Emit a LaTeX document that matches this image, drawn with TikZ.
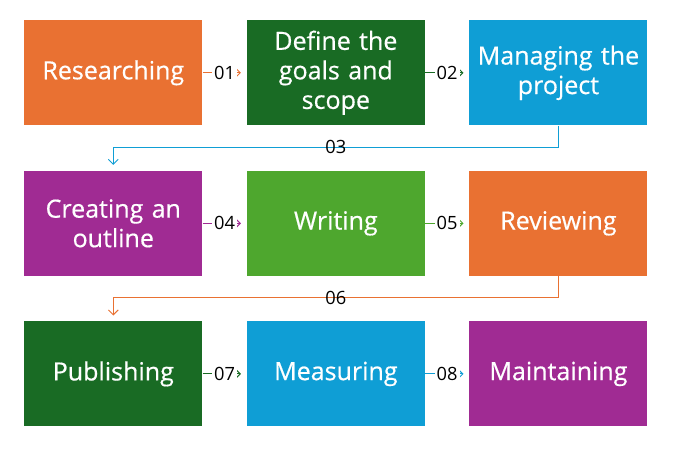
\documentclass[tikz,border=0pt]{standalone}
\usepackage{fontspec}
\setmainfont{Open Sans}
\newfontfamily\boxfont[FakeBold=0.5]{Open Sans}
\usetikzlibrary{positioning,arrows.meta,calc}
\definecolor{accOrange}{HTML}{E97132}
\definecolor{accDkGreen}{HTML}{196B24}
\definecolor{accBlue}{HTML}{0F9ED5}
\definecolor{accPurple}{HTML}{A02B93}
\definecolor{accGreen}{HTML}{4EA72E}
\tikzset{
  stage/.style={rectangle, minimum width=4.45cm, minimum height=2.625cm,
    text width=4.4cm, align=center, text=white, inner sep=0pt,
    font=\boxfont\fontsize{17.8}{21}\selectfont},
  link/.style={-{Straight Barb[length=3.5pt,width=7pt]}, line width=0.7pt, shorten >=4pt},
  num/.style={fill=white, inner sep=1.5pt, text=black, font=\fontsize{13}{14}\selectfont},
  wrapnum/.style={inner sep=0pt, text=black, font=\fontsize{13}{14}\selectfont}
}
\begin{document}
\begin{tikzpicture}
    \useasboundingbox (0,0) rectangle (17,-11.225);
    % first row
    \node[stage, fill=accOrange, anchor=north west] (res) at (0.6,-0.5) {Researching};
    \node[stage, fill=accDkGreen] (goals) [right=1.1cm of res] {Define the\\goals and\\scope};
    \node[stage, fill=accBlue] (manage) [right=1.1cm of goals] {Managing the\\project};
    % second row
    \node[stage, fill=accPurple] (outline) [below=1.125cm of res] {Creating an\\outline};
    \node[stage, fill=accGreen] (write) [right=1.1cm of outline] {Writing};
    \node[stage, fill=accOrange] (review) [right=1.1cm of write] {Reviewing};
    % third row
    \node[stage, fill=accDkGreen] (publish) [below=1.125cm of outline] {Publishing};
    \node[stage, fill=accBlue] (measure) [right=1.1cm of publish] {Measuring};
    \node[stage, fill=accPurple] (maintain) [right=1.1cm of measure] {Maintaining};
    \path
    (res) edge [link, draw=accOrange] node[num] {01} (goals)
    (goals) edge [link, draw=accDkGreen] node[num] {02} (manage)
    (outline) edge [link, draw=accPurple] node[num] {04} (write)
    (write) edge [link, draw=accGreen] node[num] {05} (review)
    (publish) edge [link, draw=accDkGreen] node[num] {07} (measure)
    (measure) edge [link, draw=accBlue] node[num] {08} (maintain);
    % wrap to next row
    \draw [link, draw=accBlue] (manage.south) -- ++(0,-0.54) -| node[wrapnum, pos=0.25] {03} (outline.north);
    \draw [link, draw=accOrange] (review.south) -- ++(0,-0.54) -| node[wrapnum, pos=0.25] {06} (publish.north);
\end{tikzpicture}
\end{document}
